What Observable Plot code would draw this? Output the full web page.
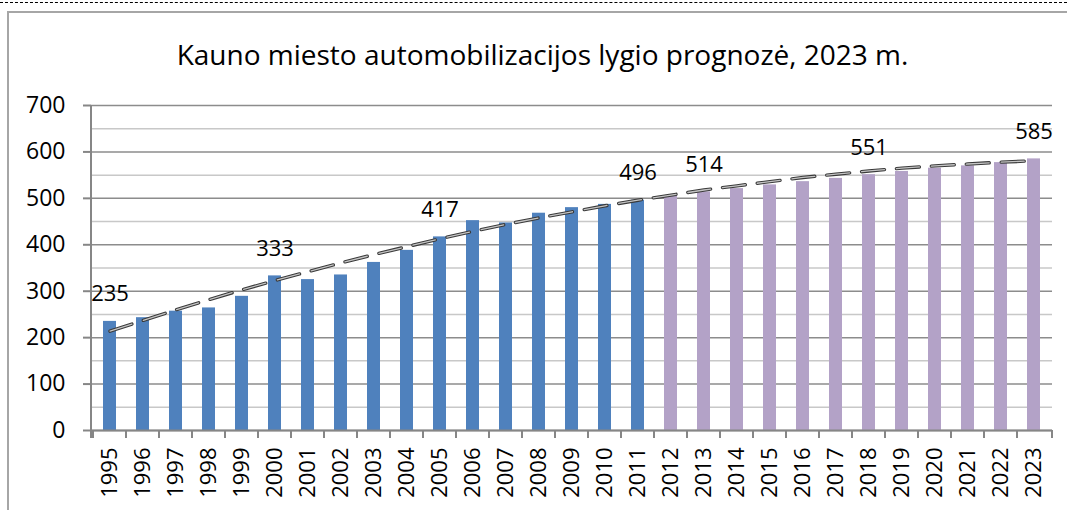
<!DOCTYPE html>
<html><head><meta charset="utf-8">
<script src="https://cdn.jsdelivr.net/npm/d3@7"></script>
<script src="https://cdn.jsdelivr.net/npm/@observablehq/plot@0.6"></script>
<style>
html,body{margin:0;padding:0;background:#fff;}
#wrap{position:relative;width:1067px;height:510px;overflow:hidden;font-family:"Open Sans",sans-serif;}
#dash{position:absolute;left:0;top:2px;width:1067px;border-top:1.5px dashed #000;}
#box{position:absolute;left:7px;top:11px;width:1100px;height:600px;border:2px solid #a6a6a6;}
#title{position:absolute;left:0;width:1085px;top:36px;text-align:center;font-size:28px;color:#000;line-height:36px;white-space:nowrap;}
#chart{position:absolute;left:0;top:0;}
</style></head>
<body><div id="wrap"><div id="dash"></div><div id="box"></div><div id="title"></div><div id="chart"></div></div>
<script>
const actualYears = ["1995","1996","1997","1998","1999","2000","2001","2002","2003","2004","2005","2006","2007","2008","2009","2010","2011"];
const actualValues = [235,243,257,264,289,333,325,335,362,388,417,452,447,468,480,487,496];
const forecastYears = ["2012","2013","2014","2015","2016","2017","2018","2019","2020","2021","2022","2023"];
const forecastValues = [506,514,521,529,536,543,551,558,565,570,577,585];
const trendValues = [214,237,260,282,303,323,342,361,379,396,413,429,444,458,471,484,496,507,518,527,536,545,552,559,565,570,574,578,581];
const labelYears = ["1995","2000","2005","2011","2013","2018","2023"];
const yTicks = [0,100,200,300,400,500,600,700];
const minorGrid = [50,150,250,350,450,550,650];
const titleText = "Kauno miesto automobilizacijos lygio prognozė, 2023 m.";

const years = actualYears.concat(forecastYears);
const rows = actualYears.map((y, i) => ({year: y, value: actualValues[i], phase: "faktas"}))
  .concat(forecastYears.map((y, i) => ({year: y, value: forecastValues[i], phase: "prognozė"})));
const trendRows = years.map((y, i) => ({year: y, trend: trendValues[i]}));
const labelRows = rows.filter(d => labelYears.includes(d.year));

document.getElementById("title").textContent = titleText;

const dash = "23,12";
const plot = Plot.plot({
  width: 1067, height: 510,
  marginTop: 105, marginBottom: 80, marginLeft: 91, marginRight: 15,
  style: {fontFamily: "'Open Sans', sans-serif", background: "transparent", color: "#000"},
  x: {type: "band", domain: years, paddingInner: 0.6, paddingOuter: 0.3, label: null},
  y: {domain: [0, 700], label: null},
  color: {domain: ["faktas", "prognozė"], range: ["#4F81BD", "#B3A2C7"]},
  marks: [
    Plot.ruleY(minorGrid, {stroke: "#c8c8c8", strokeWidth: 1.5}),
    Plot.ruleY(yTicks, {stroke: "#8c8c8c", strokeWidth: 1.5}),
    Plot.barY(rows, {x: "year", y: "value", fill: "phase"}),
    Plot.line(trendRows, {x: "year", y: "trend", stroke: "#3a3a3a", strokeWidth: 3.4, strokeDasharray: dash}),
    Plot.line(trendRows, {x: "year", y: "trend", stroke: "#c4c4c4", strokeWidth: 1.3, strokeDasharray: dash}),
    Plot.text(labelRows, {x: "year", y: "value", text: d => String(d.value), dy: -27, fontSize: 22, fill: "#000"}),
    Plot.ruleY([0], {stroke: "#868686", strokeWidth: 2}),
    Plot.axisY({ticks: yTicks, tickSize: 8, tickPadding: 18, fontSize: 23, stroke: "#868686", strokeWidth: 2, fill: "#000", label: null}),
    Plot.axisX({tickSize: 0, tickRotate: -90, tickPadding: 17, fontSize: 22, fill: "#000", label: null})
  ]
});
document.getElementById("chart").appendChild(plot);

// axis lines and category boundary ticks from the plot's own scales
const xs = plot.scale("x"), ys = plot.scale("y");
const svg = d3.select(plot);
const y0 = ys.apply(0), yTop = ys.apply(700);
const x0 = xs.range[0], x1 = xs.range[1];
const g = svg.append("g").attr("stroke", "#868686").attr("stroke-width", 2);
g.append("line").attr("x1", x0).attr("x2", x0).attr("y1", yTop).attr("y2", y0 + 8);
const bounds = years.map(y => xs.apply(y) - (xs.step - xs.bandwidth) / 2).concat([x1]);
bounds.forEach(b => g.append("line").attr("x1", b).attr("x2", b).attr("y1", y0).attr("y2", y0 + 8));
</script>
</body></html>
